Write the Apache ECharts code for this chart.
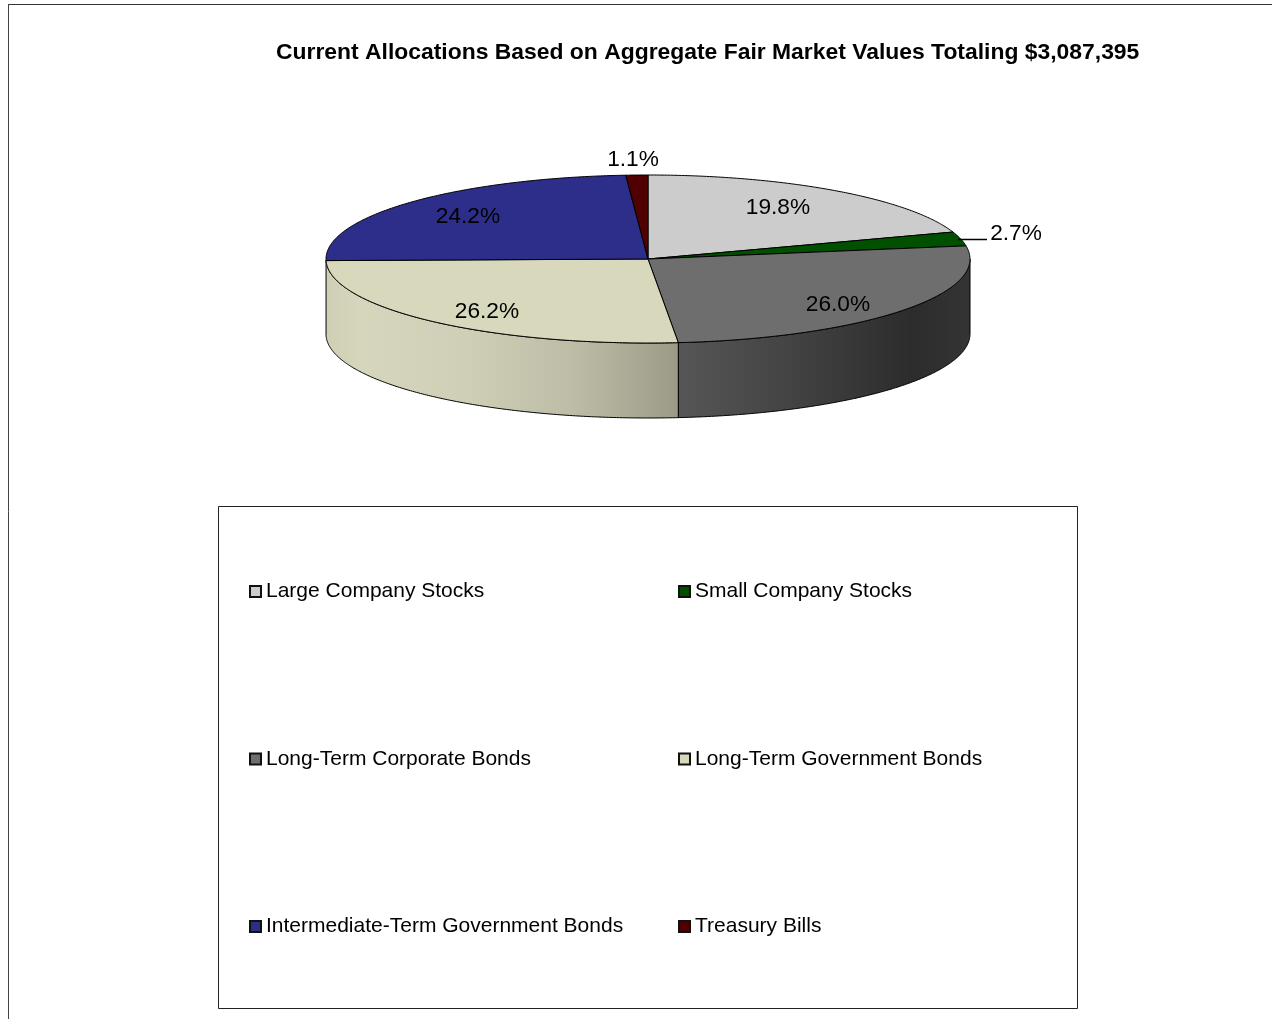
<!DOCTYPE html>
<html>
<head>
<meta charset="utf-8">
<title>Current Allocations</title>
<script src="https://cdn.jsdelivr.net/npm/echarts@6/dist/echarts.min.js"></script>
<style>
  html, body { margin: 0; padding: 0; background: #fff; overflow: hidden; }
  #chart { width: 1272px; height: 1019px; }
</style>
</head>
<body>
<div id="chart"></div>
<script>
var categories = [
  'Large Company Stocks',
  'Small Company Stocks',
  'Long-Term Corporate Bonds',
  'Long-Term Government Bonds',
  'Intermediate-Term Government Bonds',
  'Treasury Bills'
];
var shares = [19.8, 2.7, 26.0, 26.2, 24.2, 1.1];
var topColors = ['#cccccc', '#005000', '#6e6e6e', '#d8d8bd', '#2d2d8a', '#500000'];
var chartTitle = 'Current Allocations Based on Aggregate Fair Market Values Totaling $3,087,395';

// pie geometry, the slices themselves come from shares
var cx = 648, cy = 259, rx = 322, ry = 84, depth = 75;
var outlineColor = '#000';
var fontName = '"Liberation Sans", Arial, sans-serif';

// where Excel put each percent label
var labelAt = [[778, 208], [1016, 234], [838, 305], [487, 312], [468, 217], [633, 160]];

// side wall shading, only the two front slices show one
var wallStops = {
  2: [[0, '#565656'], [0.35, '#454545'], [0.8, '#2c2c2c'], [1, '#343434']],
  3: [[0, '#cfcfb6'], [0.1, '#d6d6bd'], [0.4, '#cfcfb7'], [0.7, '#bdbda7'], [1, '#9a9a87']]
};

function rimPoint(deg, drop) {
  var a = deg * Math.PI / 180;
  return [cx + rx * Math.sin(a), cy - ry * Math.cos(a) + (drop || 0)];
}

function arcPoints(from, to, drop) {
  var pts = [];
  var steps = Math.max(2, Math.ceil((to - from) * 2));
  for (var i = 0; i <= steps; i++) {
    pts.push(rimPoint(from + (to - from) * i / steps, drop));
  }
  return pts;
}

function renderSlice(index) {
  return function (params, api) {
    var before = 0;
    for (var i = 0; i < index; i++) {
      before += shares[i];
    }
    var from = before * 3.6;
    var to = (before + api.value(0)) * 3.6;
    var children = [];

    var wallFrom = Math.max(from, 90);
    var wallTo = Math.min(to, 270);
    if (wallStops[index] && wallTo > wallFrom) {
      var stops = wallStops[index].map(function (s) {
        return { offset: s[0], color: s[1] };
      });
      children.push({
        type: 'polygon',
        shape: { points: arcPoints(wallFrom, wallTo, 0).concat(arcPoints(wallFrom, wallTo, depth).reverse()) },
        style: {
          fill: new echarts.graphic.LinearGradient(0, 0, 1, 0, stops),
          stroke: outlineColor,
          lineWidth: 1
        }
      });
    }

    children.push({
      type: 'polygon',
      shape: { points: [[cx, cy]].concat(arcPoints(from, to, 0)) },
      style: { fill: topColors[index], stroke: outlineColor, lineWidth: 1 },
      z2: 5
    });

    children.push({
      type: 'text',
      x: labelAt[index][0],
      y: labelAt[index][1],
      style: {
        text: api.value(0).toFixed(1) + '%',
        font: '22.7px ' + fontName,
        fill: '#000',
        align: 'center',
        verticalAlign: 'middle'
      },
      z2: 10
    });

    return { type: 'group', children: children };
  };
}

var series = categories.map(function (name, i) {
  return {
    name: name,
    type: 'custom',
    coordinateSystem: 'none',
    silent: true,
    z: i === 5 ? 3 : 2,
    itemStyle: { color: topColors[i] },
    renderItem: renderSlice(i),
    data: [[shares[i]]]
  };
});

function legendColumn(names, left) {
  return {
    orient: 'vertical',
    left: left,
    top: 581,
    padding: 0,
    itemWidth: 11,
    itemHeight: 11,
    itemGap: 146.5,
    icon: 'rect',
    selectedMode: false,
    data: names,
    itemStyle: { borderColor: '#111', borderWidth: 2 },
    textStyle: { fontFamily: fontName, fontSize: 21, color: '#000' }
  };
}

var chart = echarts.init(document.getElementById('chart'), null, { renderer: 'canvas' });

chart.setOption({
  animation: false,
  backgroundColor: '#fff',
  title: {
    text: chartTitle,
    left: 276,
    top: 41,
    padding: 0,
    textStyle: { fontFamily: fontName, fontSize: 22.9, fontWeight: 'bold', color: '#000' }
  },
  legend: [
    legendColumn([categories[0], categories[2], categories[4]], 249),
    legendColumn([categories[1], categories[3], categories[5]], 678)
  ],
  graphic: [
    { type: 'line', silent: true, shape: { x1: 8, y1: 4.5, x2: 1272, y2: 4.5 }, style: { stroke: '#333', lineWidth: 1 } },
    { type: 'line', silent: true, shape: { x1: 8.5, y1: 4, x2: 8.5, y2: 1019 }, style: { stroke: '#444', lineWidth: 1 } },
    { type: 'rect', silent: true, shape: { x: 218.5, y: 506.5, width: 859, height: 502 }, style: { fill: 'none', stroke: '#222', lineWidth: 1 } },
    // leader for the 2.7% label
    { type: 'line', silent: true, z: 5, shape: { x1: 958, y1: 239.5, x2: 987, y2: 239.5 }, style: { stroke: '#000', lineWidth: 1.5 } }
  ],
  series: series
});
</script>
</body>
</html>
